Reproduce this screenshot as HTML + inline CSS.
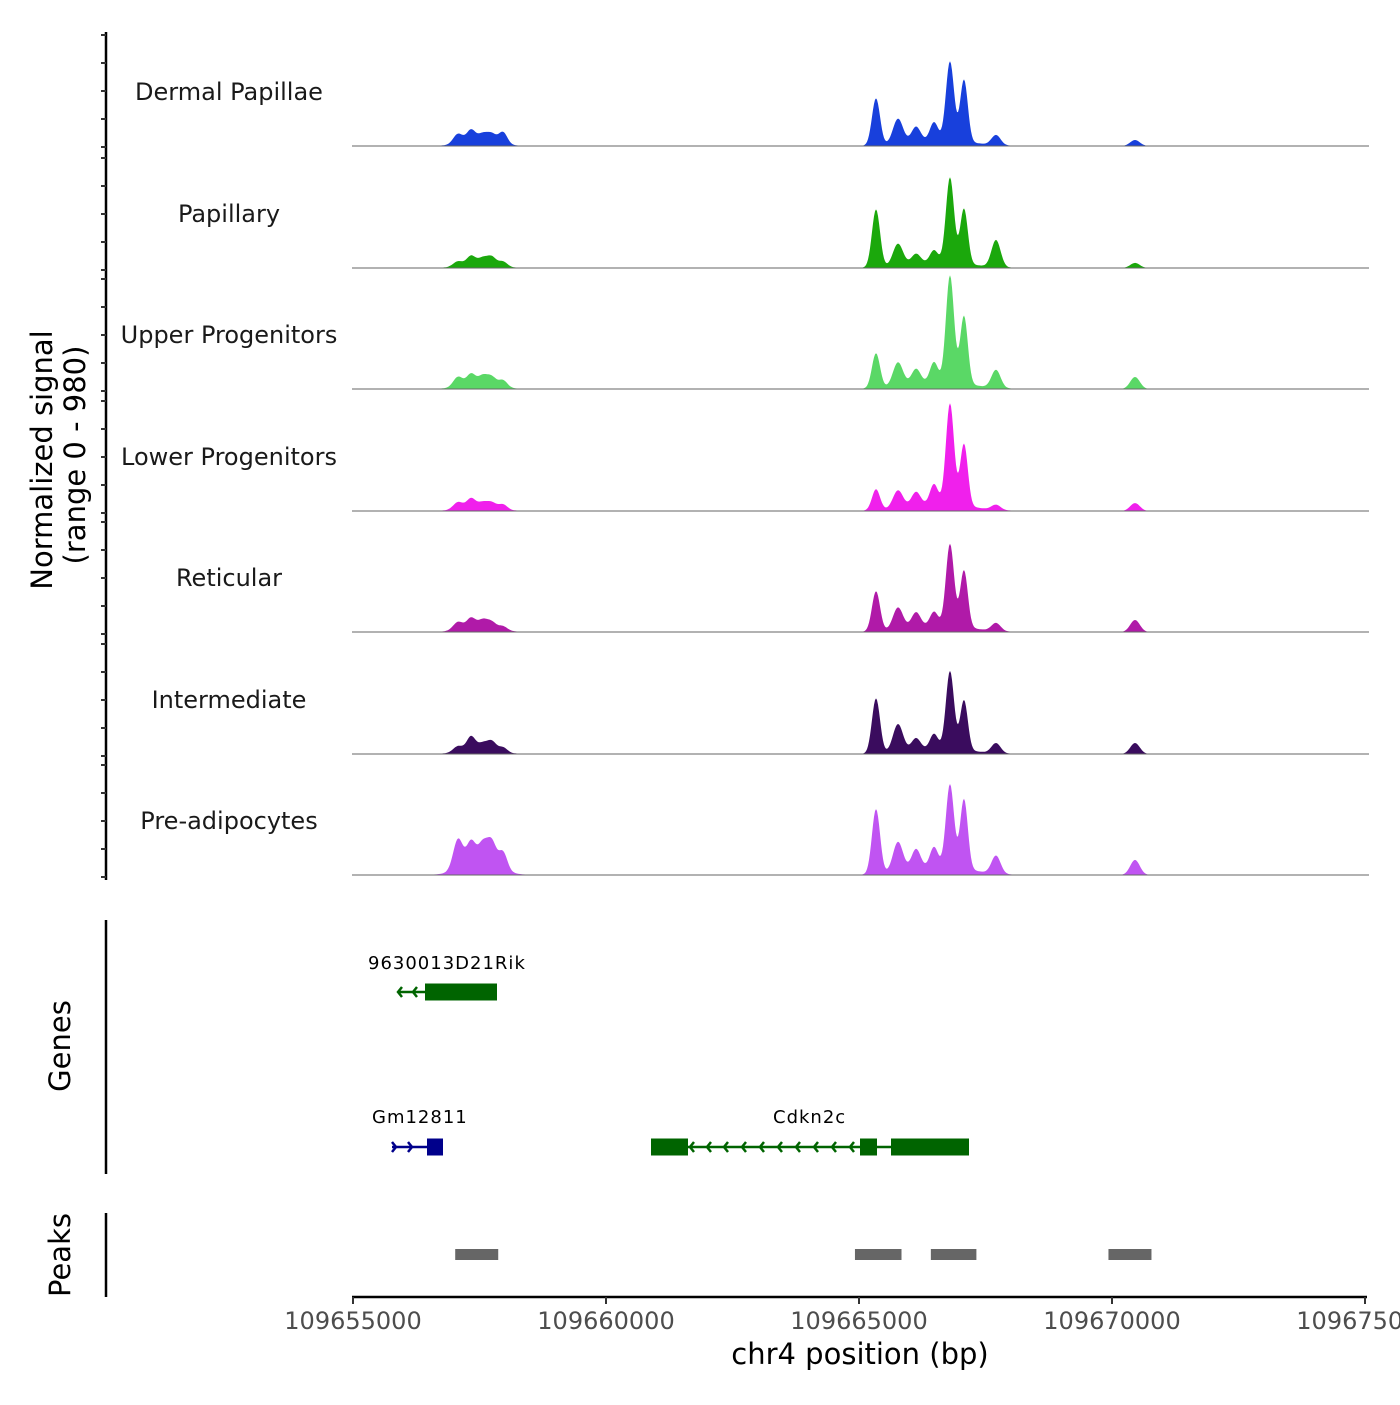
<!DOCTYPE html>
<html><head><meta charset="utf-8"><style>
body{margin:0;background:#fff}
svg text{font-family:"DejaVu Sans","Liberation Sans",sans-serif}
</style></head><body>
<svg id="chart" width="1400" height="1400" xmlns="http://www.w3.org/2000/svg"></svg>
<script>
const trackNames=["Dermal Papillae","Papillary","Upper Progenitors","Lower Progenitors","Reticular","Intermediate","Pre-adipocytes"];
const trackColors=["#1840dc","#1ba80c","#5ad866","#f020ec","#b01aa8","#3a0c5e","#c054f2"];
const peakCenters=[109657075,109657332,109657569,109657747,109657964,109665336,109665770,109666126,109666482,109666798,109667075,109667708,109670455];
const peakWidths=[95,85,95,85,85,80,100,90,80,80,75,90,95];
const hDermal=[83,100,66,66,100,390,208,125,150,656,515,83,50];
const hPapillary=[42,75,58,66,42,481,183,83,100,706,457,224,42];
const hUpper=[83,91,75,66,58,290,199,125,166,888,564,149,100];
const hLower=[58,75,42,42,42,174,149,116,166,838,515,42,66];
const hReticular=[66,83,66,50,33,332,183,125,116,681,473,66,100];
const hIntermediate=[50,116,58,75,42,457,232,100,125,647,415,83,91];
const hPre=[249,183,166,183,149,540,249,166,166,689,581,149,125];
const trackHeights=[hDermal,hPapillary,hUpper,hLower,hReticular,hIntermediate,hPre];
const shoulderHeights=[50,50,60,60,55,45,70];
const clusterHeights=[40,30,40,35,40,35,110];
const xTicks=[109655000,109660000,109665000,109670000,109675000];
const xTickLabels=["109655000","109660000","109665000","109670000","109675000"];
const peakRegions=[[109657020,109657870],[109664920,109665840],[109666420,109667320],[109669930,109670780]];
const yMax=980;

const NS="http://www.w3.org/2000/svg";
const svg=document.getElementById('chart');
function el(t,a,p){const e=document.createElementNS(NS,t);for(const k in a)e.setAttribute(k,a[k]);(p||svg).appendChild(e);return e;}
const X0=353,X1=1365,B0=109655000,B1=109675000;
const xs=b=>X0+(b-B0)*(X1-X0)/(B1-B0);
const bases=[146,268,389,511,632,754,875];
const trackPx=118;
const ys=(v,i)=>bases[i]-v/yMax*trackPx;

let ax=el('line',{x1:106,y1:32,x2:106,y2:880,stroke:'#000','stroke-width':2.5});

bases.forEach((b,i)=>{for(let k=0;k<5;k++){const y=b-k*28-(i==0?1:0);const t=el('line',{x1:101,y1:y+2,x2:106,y2:y+2,stroke:'#333','stroke-width':2});}});
let yt=el('text',{transform:'translate(52,460) rotate(-90)','text-anchor':'middle','font-size':29});
yt.textContent='Normalized signal';
let yt2=el('text',{transform:'translate(85,455) rotate(-90)','text-anchor':'middle','font-size':29});
yt2.textContent='(range 0 - 980)';

trackNames.forEach((name,i)=>{
  const g=el('g',{});
  
  
  let d='M'+X0+','+bases[i];
  for(let px=X0;px<=1368;px+=1){
    const b=B0+(px-X0)*(B1-B0)/(X1-X0);
    let v=0;
    peakCenters.forEach((c,j)=>{const z=(b-c)/peakWidths[j];v+=trackHeights[i][j]*Math.exp(-0.5*z*z);});
    let z=(b-109666600)/600;v+=shoulderHeights[i]*Math.exp(-0.5*z*z);
    z=(b-109657500)/350;v+=clusterHeights[i]*Math.exp(-0.5*z*z);
    d+=' L'+px+','+ys(v,i).toFixed(1);
  }
  d+=' L1368,'+bases[i]+' Z';
  const p=el('path',{d:d,fill:trackColors[i]},g);
  
  const bl=el('line',{x1:352,y1:bases[i],x2:1369,y2:bases[i],stroke:'#666','stroke-width':1},g);
  
  const t=el('text',{x:229,y:bases[i]-46,'text-anchor':'middle','font-size':24,fill:'#1a1a1a'},g);
  t.textContent=name;
});

const ga=el('line',{x1:106,y1:920,x2:106,y2:1174,stroke:'#000','stroke-width':2.5});

const gt=el('text',{transform:'translate(70,1046) rotate(-90)','text-anchor':'middle','font-size':29});
gt.textContent='Genes';
function lbl(x,y,s){const t=el('text',{x:x,y:y,'font-size':18,'letter-spacing':'1'});t.textContent=s;}
function chev(x,y,c,dir){const e=el('path',{d:`M${x+4*dir},${y-5} L${x},${y} L${x+4*dir},${y+5}`,stroke:c,'stroke-width':2.5,fill:'none'});}
function box(x1,x2,y,c,h){const r=el('rect',{x:x1,y:y-h/2,width:x2-x1,height:h,fill:c});}
function ln(x1,x2,y,c){const l=el('line',{x1:x1,y1:y,x2:x2,y2:y,stroke:c,'stroke-width':2.5});}
const G='#006400',Bl='#00008b';
lbl(368,969,'9630013D21Rik');
ln(398,425,992,G);chev(398,992,G,1);chev(413,992,G,1);box(425,497,992,G,17);
lbl(372,1123,'Gm12811');
ln(392,428,1147,Bl);chev(396,1147,Bl,-1);chev(412,1147,Bl,-1);box(427,443,1147,Bl,17);
lbl(773,1123,'Cdkn2c');
box(651,688,1147,G,17);ln(688,891,1147,G);
[690,707,724,742,760,778,796,814,832,850].forEach(x=>chev(x,1147,G,1));
box(860,877,1147,G,17);box(891,969,1147,G,17);

const pa=el('line',{x1:106,y1:1213,x2:106,y2:1297,stroke:'#000','stroke-width':2.5});

const pt=el('text',{transform:'translate(70,1255) rotate(-90)','text-anchor':'middle','font-size':29});
pt.textContent='Peaks';
peakRegions.forEach(r=>{const e=el('rect',{x:xs(r[0]),y:1249,width:xs(r[1])-xs(r[0]),height:11,fill:'#666'});});

const xa=el('line',{x1:352,y1:1297,x2:1367,y2:1297,stroke:'#000','stroke-width':2.5});

xTicks.forEach((b,i)=>{
  const t=el('line',{x1:xs(b),y1:1297,x2:xs(b),y2:1304,stroke:'#333','stroke-width':2});
  
  const l=el('text',{x:xs(b),y:1329,'text-anchor':'middle','font-size':24,fill:'#4d4d4d'});
  l.textContent=xTickLabels[i];
});
const xt=el('text',{x:860,y:1364,'text-anchor':'middle','font-size':29});
xt.textContent='chr4 position (bp)';
</script>
</body></html>
